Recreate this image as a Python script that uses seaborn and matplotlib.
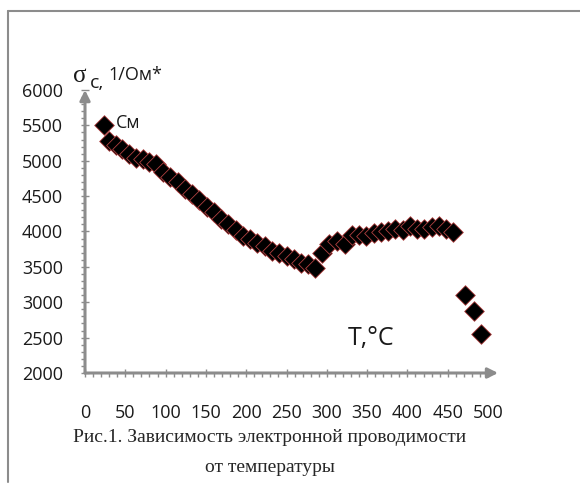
import numpy as np
import pandas as pd
import seaborn as sns
import matplotlib.pyplot as plt
from matplotlib.lines import Line2D
from matplotlib.ticker import MultipleLocator

# temperature, C
temp = [24, 30, 38, 46, 55, 63, 72, 80, 88, 97, 106, 115, 124, 133, 142, 151, 160,
        169, 178, 187, 196, 205, 214, 223, 232, 241, 250, 259, 268, 277, 285, 294,
        303, 313, 322, 331, 340, 349, 358, 367, 376, 385, 394, 403, 412, 421, 430,
        439, 448, 457, 471, 483, 491]
# electronic conductivity, 1/(Ohm*cm)
sigma = [5500, 5280, 5220, 5160, 5090, 5040, 5020, 4980, 4960, 4840, 4770, 4700,
         4600, 4530, 4450, 4350, 4280, 4180, 4100, 4020, 3940, 3890, 3840, 3790,
         3730, 3690, 3650, 3610, 3560, 3540, 3490, 3690, 3820, 3870, 3820, 3950,
         3950, 3930, 3980, 3990, 4000, 4030, 4020, 4080, 4030, 4040, 4070, 4080,
         4040, 3990, 3100, 2880, 2550]
x_ticks = [0, 50, 100, 150, 200, 250, 300, 350, 400, 450, 500]
y_ticks = [2000, 2500, 3000, 3500, 4000, 4500, 5000, 5500, 6000]

df = pd.DataFrame({'T': temp, 'sigma': sigma})

sns.set_style('white')
plt.rcParams['font.family'] = ['Open Sans', 'DejaVu Sans']

W, H = 580, 487
fig = plt.figure(figsize=(W / 100, H / 100), dpi=100)

def fx(px):
    return px / W

def fy(py):
    return 1 - py / H

ax = fig.add_axes([fx(85), fy(373), (488 - 85) / W, (373 - 90) / H])
sns.scatterplot(data=df, x='T', y='sigma', marker='D', s=100, color='black',
                edgecolor='#b04040', linewidth=0.6, ax=ax, clip_on=False, zorder=3)

ax.set_xlim(0, 500)
ax.set_ylim(2000, 6000)
ax.set_xticks(x_ticks)
ax.set_yticks(y_ticks)
ax.xaxis.set_minor_locator(MultipleLocator(10))
ax.yaxis.set_minor_locator(MultipleLocator(100))
ax.set_xlabel('')
ax.set_ylabel('')
for s in ax.spines.values():
    s.set_visible(False)

grey = '#8c8c8c'
ax.tick_params(which='major', direction='inout', length=6, width=1, color=grey,
               labelsize=13, labelcolor='#1a1a1a')
ax.tick_params(which='minor', direction='out', length=3, width=1, color=grey)
ax.tick_params(axis='x', which='major', pad=19)
ax.tick_params(axis='y', which='major', pad=13)
ax.tick_params(bottom=True, left=True, which='both')

# axis lines with arrow heads
arrow = dict(arrowstyle='-|>,head_length=0.6,head_width=0.3', color=grey, lw=2.2,
             shrinkA=0, shrinkB=0)
ax.annotate('', xy=(1.025, 0), xytext=(0, 0), xycoords='axes fraction',
            arrowprops=arrow, zorder=1)
ax.annotate('', xy=(0, 1.0), xytext=(0, 0), xycoords='axes fraction',
            arrowprops=arrow, zorder=1)

# axis titles
fig.text(fx(80), fy(76), 'σ', fontsize=18, family='Liberation Serif',
         ha='center', va='center', color='#1a1a1a')
fig.text(fx(97), fy(83), 'c,', fontsize=14, ha='center', va='center', color='#1a1a1a')
fig.text(fx(108), fy(75), '1/Ом*', fontsize=13, ha='left', va='center', color='#1a1a1a')
fig.text(fx(128), fy(123), 'См', fontsize=13, ha='center', va='center', color='#1a1a1a')
fig.text(fx(371), fy(338), 'Т,°С', fontsize=18, ha='center', va='center', color='#1a1a1a')

# caption
fig.text(fx(270), fy(437), 'Рис.1. Зависимость электронной проводимости',
         fontsize=14, family='Liberation Serif', ha='center', va='center')
fig.text(fx(270), fy(467), 'от температуры',
         fontsize=14, family='Liberation Serif', ha='center', va='center')

# frame
fig.add_artist(Line2D([fx(8), fx(580)], [fy(11), fy(11)], color=grey, lw=1.5))
fig.add_artist(Line2D([fx(8), fx(8)], [fy(11), fy(482)], color=grey, lw=1.5))

plt.savefig('out.png', dpi=100)
